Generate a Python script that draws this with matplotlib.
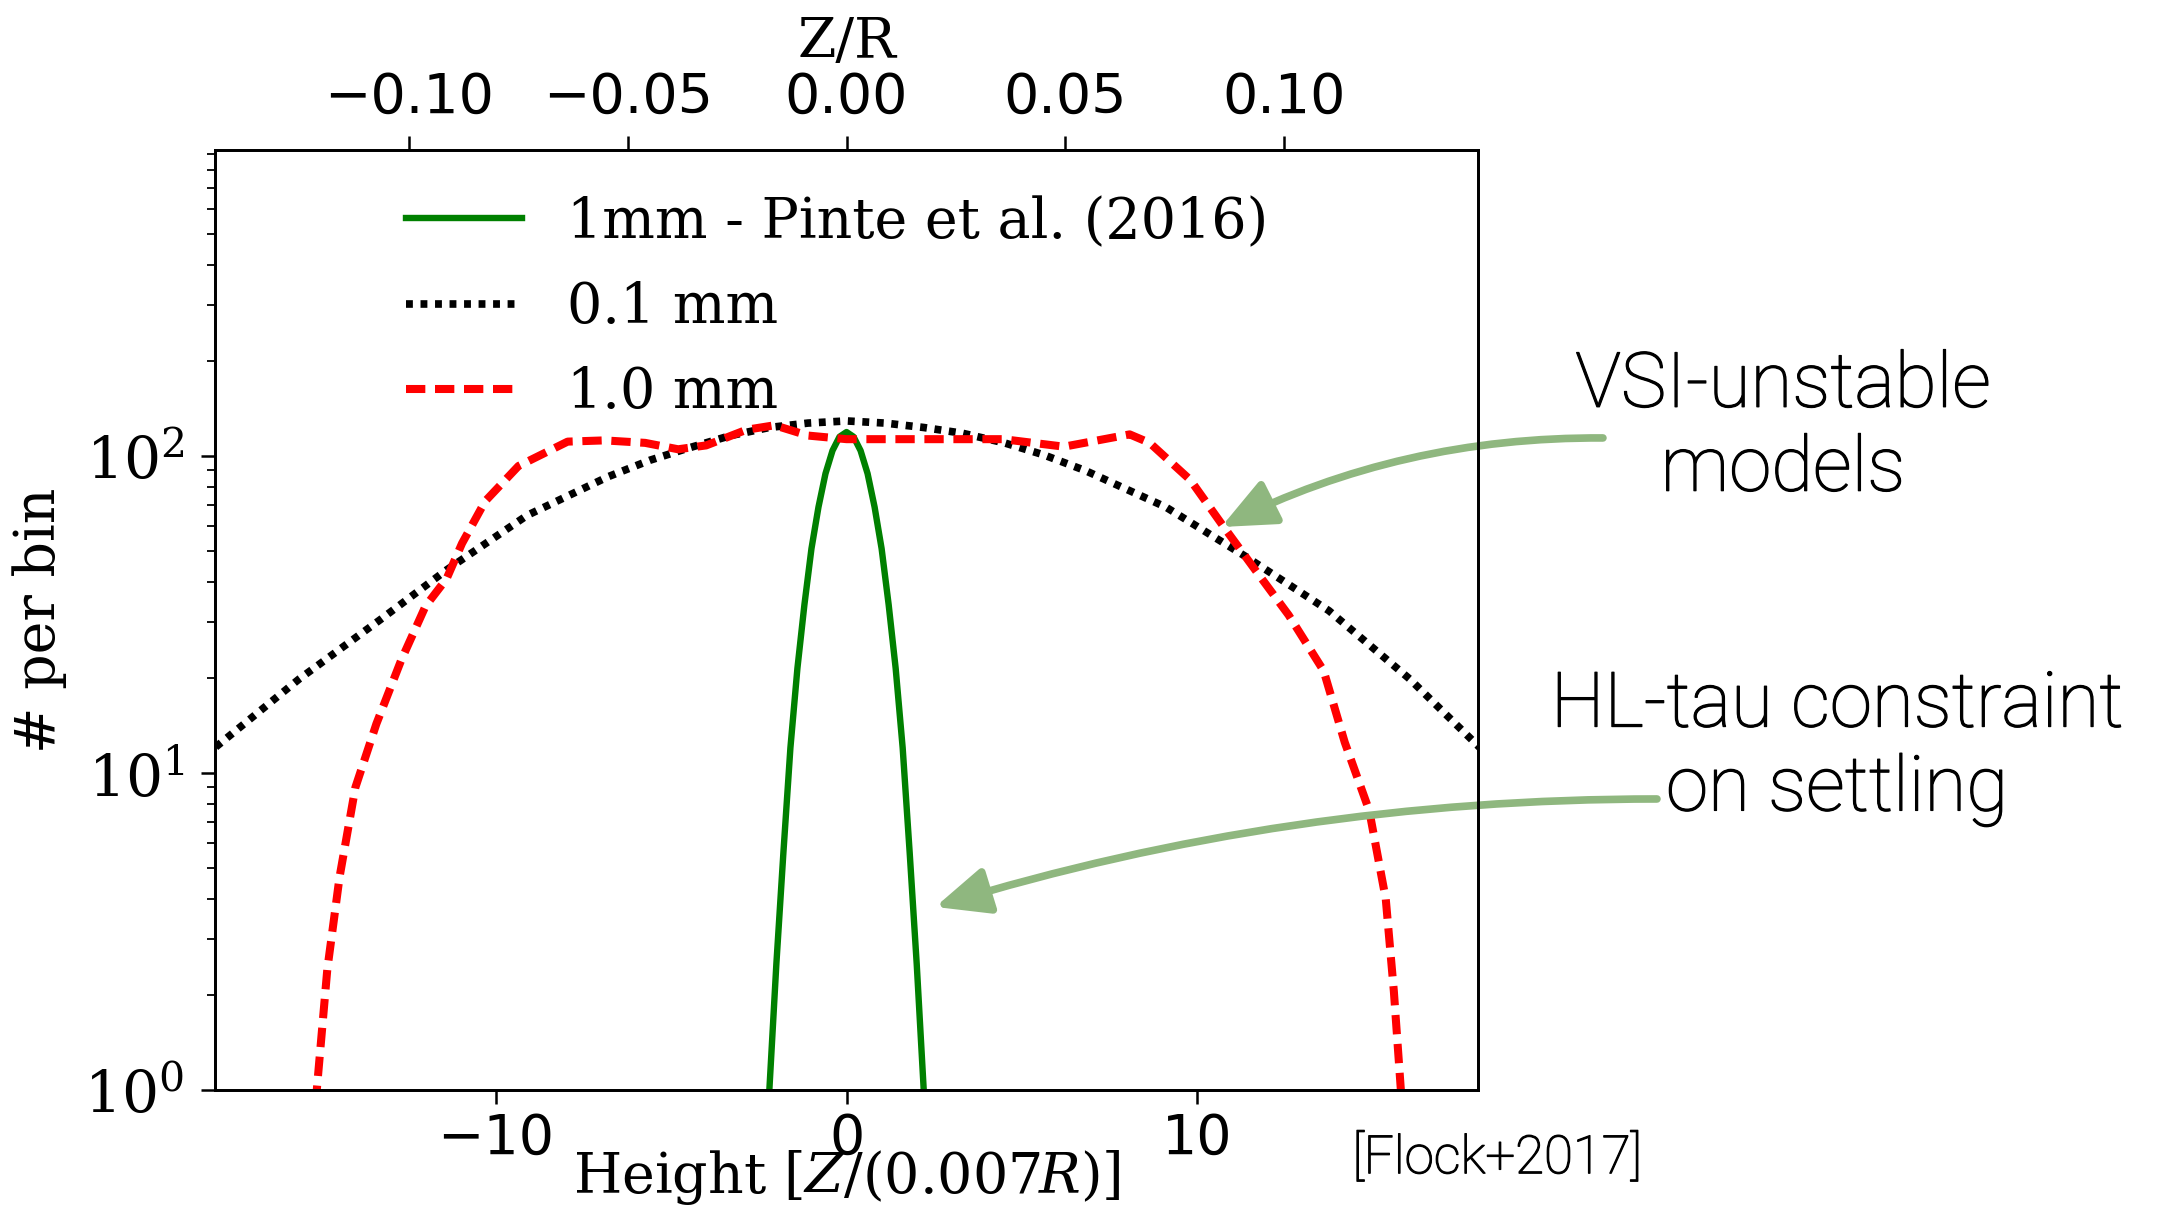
import matplotlib
matplotlib.use("Agg")
import matplotlib.pyplot as plt
import matplotlib.patheffects as pe

# ---- data ----
# 1mm - Pinte et al. (2016)
pinte_x = [-2.3, -2.2, -2.0, -1.8, -1.6, -1.4, -1.2, -1.0, -0.8, -0.6, -0.4, -0.2, 0.0,
           0.2, 0.4, 0.6, 0.8, 1.0, 1.2, 1.4, 1.6, 1.8, 2.0, 2.2, 2.3]
pinte_y = [0.8, 1.0, 2.5, 5.6, 12, 21.4, 34, 51, 69, 88, 104, 115, 119,
           115, 104, 88, 69, 51, 34, 21.4, 12, 5.6, 2.5, 1.0, 0.8]

# 0.1 mm
small_x = [-18.3, -15.6, -13.3, -11.4, -9.1, -6.8, -5.6, -4.5, -3.3, -2.2, -1.1, 0.0,
           1.1, 2.2, 3.3, 4.5, 5.6, 6.8, 9.1, 11.4, 13.75, 16.05, 18.3]
small_y = [11.3, 19.8, 30.4, 43.7, 65, 86, 97, 106, 116, 123, 127, 129,
           127, 123, 118, 110, 101, 90, 69, 48, 32.5, 19.8, 11.3]

# 1.0 mm
big_x = [-15.2, -15.1, -14.8, -14.45, -14.0, -13.4, -12.7, -12.0, -11.4, -10.96, -10.3,
         -9.35, -7.95, -6.9, -5.74, -4.8, -4.0, -2.85, -2.05, -1.1, 0.0, 2.16, 4.46,
         6.2, 8.07, 8.64, 9.8, 10.74, 11.65, 12.6, 13.6, 14.2, 14.9, 15.37, 15.6, 15.8, 15.85]
big_y = [0.9, 1.0, 2.4, 4.7, 9.0, 14.3, 22.6, 33.6, 41, 53, 72,
         93, 111, 112, 110, 105, 108, 121, 125, 116, 113, 113, 113,
         107, 117, 110, 84, 60, 43.7, 31.5, 21, 12.5, 7.6, 4.0, 2.05, 1.0, 0.9]

labels = ["1mm - Pinte et al. (2016)", "0.1 mm", "1.0 mm"]
top_ticks = [-0.10, -0.05, 0.00, 0.05, 0.10]

plt.rcParams["font.family"] = "DejaVu Serif"
plt.rcParams["mathtext.fontset"] = "dejavuserif"

fig = plt.figure(figsize=(21.72, 12.06), dpi=100)
ax = fig.add_axes([0.099, 0.0962, 0.5815, 0.7794])

ax.plot(pinte_x, pinte_y, color="green", lw=4.6, label=labels[0])
ax.plot(small_x, small_y, color="black", lw=5.5, dashes=(0.9, 1.0), label=labels[1])
ax.plot(big_x, big_y, color="red", lw=5.8, dashes=(2.4, 1.2), label=labels[2])

ax.set_yscale("log")
ax.set_xlim(-18, 18)
ax.set_ylim(1, 923)
ax.set_xticks([-10, 0, 10])
ax.tick_params(which="major", direction="out", length=10, width=1.8, labelsize=40)
ax.tick_params(which="minor", direction="out", length=6, width=1.3)
ax.tick_params(axis="x", pad=6)
ax.tick_params(axis="y", pad=12, labelsize=42)
for lbl in ax.get_xticklabels():
    lbl.set_family("DejaVu Sans")

ax.set_xlabel(r"Height [$Z/(0.007R)$]", fontsize=40)
ax.xaxis.set_label_coords(0.5, -0.062)
ax.set_ylabel("# per bin", fontsize=40)
ax.yaxis.set_label_coords(-0.117, 0.5)

ax2 = ax.twiny()
ax2.set_xlim(-0.1443, 0.1443)
ax2.set_xticks(top_ticks)
ax2.tick_params(direction="out", length=10, width=1.8, labelsize=40, pad=8)
for lbl in ax2.get_xticklabels():
    lbl.set_family("DejaVu Sans")
ax2.set_xlabel("Z/R", fontsize=40)
ax2.xaxis.set_label_coords(0.5, 1.098)

for a in (ax, ax2):
    for s in a.spines.values():
        s.set_linewidth(2)

ax.legend(loc="upper left", bbox_to_anchor=(0.151, 0.952), frameon=False, fontsize=40,
          handlelength=2.1, handletextpad=0.8, labelspacing=0.55,
          borderpad=0, borderaxespad=0)

# arrows + slide annotations
arrow_col = "#8fb77f"
ax.annotate("", xy=(10.68, 59.7), xytext=(21.56, 114), zorder=2.4, annotation_clip=False,
            arrowprops=dict(arrowstyle="-|>,head_length=0.5,head_width=0.22", mutation_scale=65,
                            lw=5.5, color=arrow_col, shrinkA=0, shrinkB=0,
                            connectionstyle="arc3,rad=0.12"))
ax.annotate("", xy=(2.53, 3.78), xytext=(23.1, 8.28), zorder=2.4, annotation_clip=False,
            arrowprops=dict(arrowstyle="-|>,head_length=0.5,head_width=0.22", mutation_scale=65,
                            lw=5.5, color=arrow_col, shrinkA=0, shrinkB=0,
                            connectionstyle="arc3,rad=0.075"))

# light sans, thickened a touch to match the slide font
thick = [pe.withStroke(linewidth=0.9, foreground="black")]
W, H = 2172, 1206
fig.text(1783 / W, 1 - 428 / H, "VSI-unstable\nmodels", ha="center", va="center",
         fontsize=55, family="Roboto", fontweight="light", linespacing=1.2, path_effects=thick)
fig.text(1837 / W, 1 - 748 / H, "HL-tau constraint\non settling", ha="center", va="center",
         fontsize=55, family="Roboto", fontweight="light", linespacing=1.2, path_effects=thick)
fig.text(1497 / W, 1 - 1158 / H, "[Flock+2017]", ha="center", va="center",
         fontsize=38, family="Roboto", fontweight="light", path_effects=thick)

fig.savefig("out.png", dpi=100)
